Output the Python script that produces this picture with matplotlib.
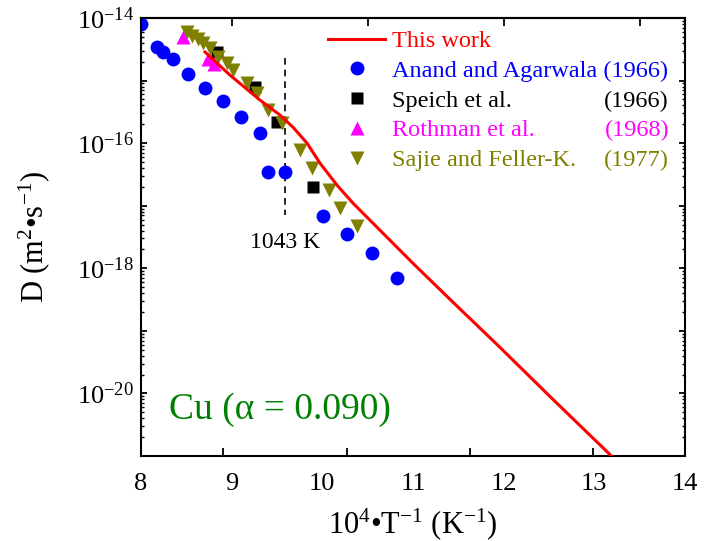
import numpy as np
import matplotlib
matplotlib.use("Agg")
import matplotlib.pyplot as plt
from matplotlib.ticker import LogLocator, FuncFormatter, NullFormatter, FixedLocator

plt.rcParams['font.family'] = ['Liberation Serif', 'DejaVu Serif']
plt.rcParams['mathtext.fontset'] = 'custom'
plt.rcParams['mathtext.rm'] = 'Liberation Serif'
plt.rcParams['mathtext.it'] = 'Liberation Serif:italic'
plt.rcParams['mathtext.default'] = 'regular'

# ---- data ----
work_x = [8.706, 8.982, 9.312, 9.533, 9.676, 9.831, 9.974, 10.162, 10.338, 10.559,
          10.779, 11.0, 11.408, 11.959, 12.51, 13.206]
work_D = [2.86e-15, 1.22e-15, 4.88e-16, 2.81e-16, 1.80e-16, 1.0e-16, 4.79e-17, 2.13e-17,
          1.10e-17, 5.25e-18, 2.51e-18, 1.20e-18, 3.19e-19, 5.45e-20, 8.95e-21, 9.46e-22]

anand_x = [8.0, 8.176, 8.243, 8.353, 8.518, 8.706, 8.904, 9.103, 9.312, 9.401, 9.588,
           10.007, 10.272, 10.548, 10.823]
anand_D = [7.9e-15, 3.44e-15, 2.86e-15, 2.21e-15, 1.27e-15, 7.59e-16, 4.70e-16, 2.61e-16,
           1.45e-16, 3.44e-17, 3.44e-17, 6.79e-18, 3.50e-18, 1.74e-18, 6.92e-19]

speich_x = [8.838, 9.257, 9.5, 9.897]
speich_D = [2.86e-15, 7.87e-16, 2.17e-16, 1.98e-17]

rothman_x = [8.463, 8.739, 8.805]
rothman_D = [4.97e-15, 2.21e-15, 1.84e-15]

sajie_x = [8.507, 8.562, 8.629, 8.684, 8.761, 8.849, 8.949, 9.015, 9.169, 9.279, 9.401,
           9.555, 9.754, 9.886, 10.073, 10.195, 10.382]
sajie_D = [5.97e-15, 5.15e-15, 4.61e-15, 3.98e-15, 3.31e-15, 2.38e-15, 1.91e-15, 1.47e-15,
           9.12e-16, 6.31e-16, 3.37e-16, 2.09e-16, 7.73e-17, 3.98e-17, 1.77e-17, 9.12e-18,
           4.70e-18]

labels = ["This work", "Anand and Agarwala (1966)", "Speich et al.", "Rothman et al.",
          "Sajie and Feller-K."]
years = [None, None, "(1966)", "(1968)", "(1977)"]
colors = ["#ff0000", "#0000ff", "#000000", "#ff00ff", "#808000"]

T_trans = 1043
x_ticks = [8, 9, 10, 11, 12, 13, 14]

# ---- figure ----
fig = plt.figure(figsize=(7.04, 5.41), dpi=100)
ax = fig.add_axes([141/704, 1-456/541, 544/704, 438/541])

ax.plot(anand_x, anand_D, 'o', color=colors[1], ms=10, mec='none', zorder=2, label=labels[1])
ax.plot(speich_x, speich_D, 's', color=colors[2], ms=8.5, mec='none', zorder=3, label=labels[2])
ax.plot(rothman_x, rothman_D, '^', color=colors[3], ms=10, mec='none', zorder=4, label=labels[3])
ax.plot(sajie_x, sajie_D, 'v', color=colors[4], ms=10, mec='none', zorder=5, label=labels[4])
ax.plot(work_x, work_D, '-', color=colors[0], lw=2.2, zorder=6, label=labels[0])

xt = 1e4 / T_trans
ax.vlines(xt, 2.3e-15, 7.1e-18, colors='black', linestyles=(0, (4, 3)), lw=1.2, zorder=1)
ax.text(xt, 2.6e-18, "1043 K", ha='center', va='center', fontsize=17)
ax.text(0.0515, 0.105, "Cu (α = 0.090)", transform=ax.transAxes, ha='left', va='center',
        fontsize=27, color='#008000')

ax.set_yscale('log')
ax.set_xlim(8, 14)
ax.set_ylim(1e-21, 1e-14)

ax.yaxis.set_major_locator(LogLocator(base=10, numticks=30))
ax.yaxis.set_minor_locator(LogLocator(base=10, subs=np.arange(2, 10), numticks=30))
def yfmt(v, pos):
    e = int(round(np.log10(v)))
    if e % 2 == 0:
        return r'$10^{%d}$' % e
    return ''
ax.yaxis.set_major_formatter(FuncFormatter(yfmt))
ax.yaxis.set_minor_formatter(NullFormatter())

ax.set_xticks(x_ticks)
ax.xaxis.set_minor_locator(FixedLocator([8.903, 10.27, 11.63, 12.99]))
ax.tick_params(axis='x', which='major', length=0, labelsize=19, pad=12)
ax.tick_params(axis='x', which='minor', direction='in', length=6, width=1.3, top=False, bottom=True)
ax.tick_params(axis='y', which='major', direction='in', length=4, width=1.3, right=True, labelsize=19, pad=5)
ax.tick_params(axis='y', which='minor', direction='in', length=2.5, width=1.0, right=True)

sec = ax.secondary_xaxis('top')
sec.set_xticks([9, 10.5, 12, 13.5])
sec.tick_params(direction='in', length=6, width=1.3, labeltop=False)
sec.spines['top'].set_linewidth(1.5)

for s in ax.spines.values():
    s.set_linewidth(1.5)

ax.set_xlabel('10$^{4}$•T$^{-1}$ (K$^{-1}$)', fontsize=22, labelpad=8)
ax.set_ylabel('D (m$^{2}$•s$^{-1}$)', fontsize=22, labelpad=18)

handles, labs = ax.get_legend_handles_labels()
order = [labs.index(l) for l in labels]
leg = ax.legend([handles[i] for i in order], [labs[i] for i in order],
                loc='upper left', bbox_to_anchor=(328/704, 1-30/541), bbox_transform=fig.transFigure,
                frameon=False, fontsize=17.5, handlelength=2.35, handletextpad=0.3,
                labelspacing=0.32, borderpad=0, borderaxespad=0, labelcolor=colors)
leg.set_zorder(10)

fig.canvas.draw()
H = fig.get_size_inches()[1] * fig.dpi
W = fig.get_size_inches()[0] * fig.dpi
for t, yr, c in zip(leg.get_texts(), years, colors):
    if yr is None:
        continue
    bb = t.get_window_extent()
    fig.text(669/W, bb.y0/H, yr, ha='right', va='bottom', fontsize=17.5, color=c)

fig.savefig('out.png', dpi=100)
